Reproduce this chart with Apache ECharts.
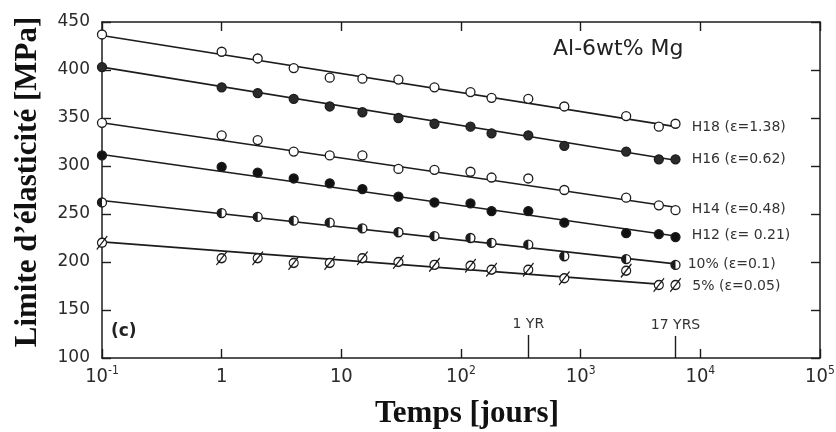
<!DOCTYPE html>
<html>
<head>
<meta charset="utf-8">
<script src="https://cdn.jsdelivr.net/npm/echarts@6/dist/echarts.min.js"></script>
<style>
html,body{margin:0;padding:0;background:#fff;}
#chart{width:836px;height:432px;}
</style>
</head>
<body>
<div id="chart"></div>
<script>
// ---- data (times in days, yield strength in MPa) ----
const times = [0.1, 1, 2, 4, 8, 15, 30, 60, 120, 180, 365, 730, 2400, 4500, 6200];
const times10 = [0.1, 1, 2, 4, 8, 15, 30, 60, 120, 180, 365, 730, 2400, 6200];

const h18 = [437, 419, 412, 402, 392, 391, 390, 382, 377, 371, 370, 362, 352, 341, 344];
const h16 = [403, 382, 376, 370, 362, 356, 350, 344, 341, 334, 332, 321, 315, 307, 307];
const h14 = [345, 332, 327, 315, 311, 311, 297, 296, 294, 288, 287, 275, 267, 259, 254];
const h12 = [311, 299, 293, 287, 282, 276, 268, 262, 261, 253, 253, 241, 230, 229, 226];
const p10 = [262, 251, 247, 243, 241, 235, 231, 227, 225, 220, 218, 206, 203, 197];
const p5  = [220, 204, 204, 199, 199, 204, 200, 197, 196, 192, 192, 183, 191, 176, 176];

const seriesNames = ['H18 (ε=1.38)', 'H16 (ε=0.62)', 'H14 (ε=0.48)', 'H12 (ε= 0.21)', '10% (ε=0.1)', '5% (ε=0.05)'];

// fitted straight lines (value at start time and at end time)
const fitStartTime = [0.1, 0.1, 0.1, 0.1, 0.1, 0.1];
const fitStart = [436, 403, 345, 312, 264, 221];
const fitEndTime = [6200, 6200, 6200, 6200, 6200, 4500];
const fitEnd = [341, 306, 257, 227, 198, 177];

// time markers
const markerTimes = [365, 6205];
const markerLabels = ['1 YR', '17 YRS'];
const markerTop = [124, 123];

// axis ticks
const xTickExponents = [-1, 0, 1, 2, 3, 4, 5];
const yMin = 100, yMax = 450, yStep = 50;

// ---- styles ----
const INK = '#1c1c1c';
const labelFont = 'DejaVu Sans';
const condFont = "'DejaVu Sans Condensed', 'Liberation Sans Narrow', 'DejaVu Sans', sans-serif";

const PATH_HALF = 'path://M10,0 A10,10 0 0,0 10,20 Z';
const PATH_SLASH = 'path://M4,10 A6,6 0 1,1 16,10 A6,6 0 1,1 4,10 Z M3,19 L17,1';

const groups = [
  { t: times,   v: h18, sym: 'circle', size: 9, fill: '#ffffff', off: [0, 4] },
  { t: times,   v: h16, sym: 'circle', size: 9, fill: '#2a2a2a', off: [0, 0] },
  { t: times,   v: h14, sym: 'circle', size: 9, fill: '#ffffff', off: [0, -1] },
  { t: times,   v: h12, sym: 'circle', size: 9, fill: '#111111', off: [0, -2] },
  { t: times10, v: p10, sym: 'circle', size: 9, fill: '#ffffff', off: [-4, -1], half: true },
  { t: times,   v: p5,  sym: PATH_SLASH, size: [10.5, 13.5], fill: '#ffffff', off: [0, 1] }
];

const series = [];
groups.forEach((g, i) => {
  const line = {
    type: 'line',
    name: seriesNames[i] + ' fit',
    data: [[fitStartTime[i], fitStart[i]], [fitEndTime[i], fitEnd[i]]],
    showSymbol: false,
    symbol: 'none',
    silent: true,
    lineStyle: { color: INK, width: 1.6 },
    z: 2,
    animation: false
  };
  if (i === 0) {
    line.markLine = {
      silent: true,
      symbol: ['none', 'none'],
      animation: false,
      lineStyle: { color: INK, width: 1.4, type: 'solid' },
      label: {
        show: true, position: 'end', distance: 4,
        formatter: p => p.name,
        color: '#333', fontFamily: labelFont, fontSize: 14
      },
      data: markerTimes.map((t, k) => [
        { coord: [t, yMin], name: markerLabels[k] },
        { coord: [t, markerTop[k]] }
      ])
    };
  }
  series.push(line);

  const data = g.t.map((t, j) => {
    const item = { value: [t, g.v[j]] };
    if (j === g.t.length - 1) {
      item.label = {
        show: true, position: 'right', distance: 11,
        offset: g.off,
        formatter: seriesNames[i],
        color: '#333', fontFamily: labelFont, fontSize: 14
      };
    }
    return item;
  });
  series.push({
    type: 'scatter',
    name: seriesNames[i],
    data: data,
    symbol: g.sym,
    symbolSize: g.size,
    symbolKeepAspect: false,
    itemStyle: { color: g.fill, borderColor: INK, borderWidth: 1.3, opacity: 1 },
    label: { show: false },
    z: 3,
    animation: false
  });
  if (g.half) {
    series.push({
      type: 'scatter',
      name: seriesNames[i] + ' half',
      data: g.t.map((t, j) => [t, g.v[j]]),
      symbol: PATH_HALF,
      symbolSize: [4.5, 9],
      symbolOffset: [-2.25, 0],
      symbolKeepAspect: false,
      itemStyle: { color: INK, opacity: 1 },
      silent: true,
      z: 4,
      animation: false
    });
  }
});

function xLabel(v) {
  const e = Math.round(Math.log10(v));
  if (e === 0) return '{b|1}';
  if (e === 1) return '{b|10}';
  return '{b|10}{s|' + e + '}';
}

const axisLineStyle = { color: INK, width: 1.5 };
const tickStyle = { color: INK, width: 1.4 };

const option = {
  backgroundColor: '#ffffff',
  animation: false,
  grid: { left: 102, right: 16, top: 22, bottom: 74, outerBoundsMode: 'none' },
  xAxis: [
    {
      type: 'log', logBase: 10, min: 0.1, max: 100000, interval: 1,
      position: 'bottom',
      name: 'Temps [jours]', nameLocation: 'middle', nameGap: 40,
      nameTextStyle: { fontFamily: 'Liberation Serif', fontWeight: 'bold', fontSize: 31, color: '#111', padding: [0, 0, 0, 12] },
      axisLine: { show: true, lineStyle: axisLineStyle },
      axisTick: { show: true, inside: true, length: 9, lineStyle: tickStyle },
      minorTick: { show: false },
      splitLine: { show: false },
      axisLabel: {
        margin: 7, formatter: xLabel, color: '#2a2a2a',
        rich: {
          b: { fontFamily: condFont, fontSize: 20, lineHeight: 24, color: '#2a2a2a' },
          s: { fontFamily: condFont, fontSize: 12, lineHeight: 13, verticalAlign: 'top', color: '#2a2a2a' }
        }
      }
    },
    {
      type: 'log', logBase: 10, min: 0.1, max: 100000, interval: 1,
      position: 'top',
      axisLine: { show: true, lineStyle: axisLineStyle },
      axisTick: { show: true, inside: true, length: 9, lineStyle: tickStyle },
      axisLabel: { show: false },
      splitLine: { show: false }
    }
  ],
  yAxis: [
    {
      type: 'value', min: yMin, max: yMax, interval: yStep,
      position: 'left',
      name: 'Limite d’élasticité [MPa]', nameLocation: 'middle', nameGap: 59, nameRotate: 90,
      nameTextStyle: { fontFamily: 'Liberation Serif', fontWeight: 'bold', fontSize: 31, color: '#111', padding: [0, 0, 0, 16] },
      axisLine: { show: true, lineStyle: axisLineStyle },
      axisTick: { show: true, inside: true, length: 9, lineStyle: tickStyle },
      splitLine: { show: false },
      axisLabel: { margin: 12, color: '#2a2a2a', fontFamily: labelFont, fontSize: 17 }
    },
    {
      type: 'value', min: yMin, max: yMax, interval: yStep,
      position: 'right',
      axisLine: { show: true, lineStyle: axisLineStyle },
      axisTick: { show: true, inside: true, length: 9, lineStyle: tickStyle },
      axisLabel: { show: false },
      splitLine: { show: false }
    }
  ],
  graphic: [
    { type: 'text', left: 553, top: 38, style: { text: 'Al-6wt% Mg', font: '22px DejaVu Sans', fill: '#222' } },
    { type: 'text', left: 111, top: 323, style: { text: '(c)', font: 'bold 17px DejaVu Sans', fill: '#222' } }
  ],
  series: series
};

const chart = echarts.init(document.getElementById('chart'), null, { renderer: 'canvas' });
chart.setOption(option);
</script>
</body>
</html>
